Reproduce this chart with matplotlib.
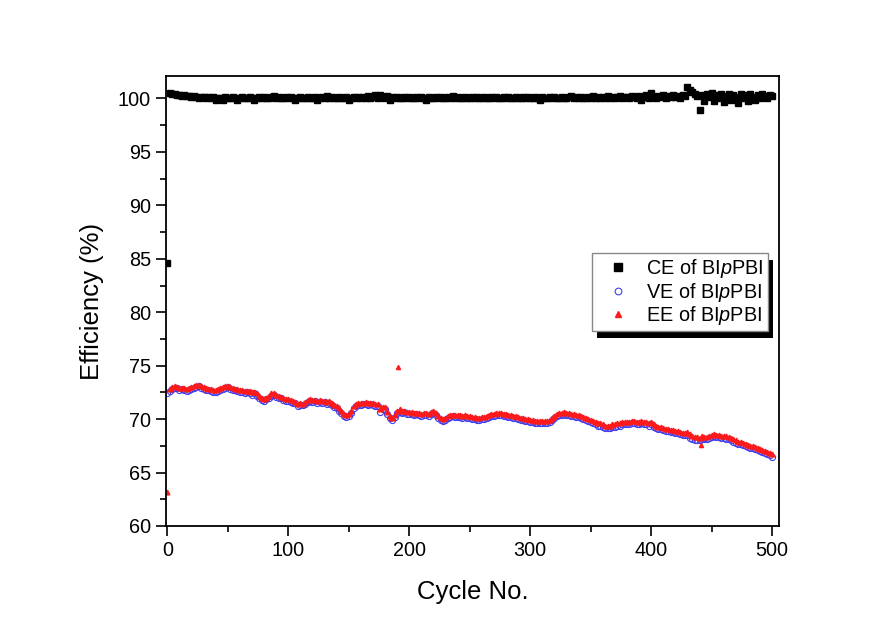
import numpy as np
import matplotlib
matplotlib.use("Agg")
import matplotlib.pyplot as plt
from matplotlib.patches import Rectangle
from matplotlib.ticker import MultipleLocator

plt.rcParams['font.family'] = ['Liberation Sans', 'DejaVu Sans']
plt.rcParams['mathtext.fontset'] = 'custom'
plt.rcParams['mathtext.rm'] = 'Liberation Sans'
plt.rcParams['mathtext.it'] = 'Liberation Sans:italic'

cycles = np.arange(0, 501, 2)

ce = [84.6, 100.5, 100.4, 100.4, 100.3, 100.3, 100.2, 100.3, 100.2, 100.2,
      100.1, 100.2, 100.1, 100.0, 100.1, 100.1, 100.0, 100.1, 100.0, 100.1,
      99.9, 100.0, 100.0, 99.9, 100.1, 100.0, 100.0, 100.1, 100.0, 99.9,
      100.0, 100.1, 100.0, 100.0, 100.1, 100.0, 99.9, 100.0, 100.1, 100.0,
      100.1, 100.0, 100.0, 100.1, 100.2, 100.0, 100.1, 100.0, 100.0, 100.1,
      100.0, 100.1, 100.0, 99.9, 100.0, 100.1, 100.0, 100.0, 100.1, 100.0,
      100.0, 100.1, 99.9, 100.0, 100.1, 100.0, 100.2, 100.0, 100.1, 100.0,
      100.0, 100.1, 100.0, 100.0, 100.1, 99.9, 100.0, 100.1, 100.0, 100.1,
      100.0, 100.1, 100.0, 100.2, 100.0, 100.1, 100.3, 100.0, 100.3, 100.1,
      100.0, 100.2, 99.9, 100.1, 100.0, 100.1, 100.0, 100.0, 100.1, 100.0,
      100.1, 100.0, 100.0, 100.1, 100.0, 100.1, 100.0, 99.9, 100.1, 100.0,
      100.0, 100.1, 100.0, 100.1, 100.0, 100.0, 100.1, 100.0, 100.2, 100.0,
      100.1, 100.0, 100.0, 100.1, 100.0, 100.0, 100.1, 100.0, 100.1, 100.0,
      100.0, 100.1, 100.0, 100.0, 100.1, 100.0, 100.1, 100.0, 100.0, 100.1,
      100.0, 100.1, 100.0, 100.0, 100.1, 100.0, 100.0, 100.1, 100.0, 100.1,
      100.0, 100.0, 100.1, 100.0, 99.9, 100.1, 100.0, 100.0, 100.1, 100.0,
      100.1, 100.0, 100.0, 100.1, 100.0, 100.0, 100.1, 100.2, 100.0, 100.1,
      100.0, 100.1, 100.0, 100.0, 100.1, 100.0, 100.2, 100.0, 100.1, 100.0,
      100.1, 100.0, 100.2, 100.0, 100.1, 100.0, 100.1, 100.2, 100.0, 100.1,
      100.1, 100.0, 100.2, 100.1, 100.0, 100.2, 99.9, 100.1, 100.3, 100.0,
      100.5, 100.1, 100.0, 100.2, 100.1, 100.3, 100.0, 100.2, 100.1, 100.3,
      100.1, 100.2, 100.0, 100.3, 100.2, 101.1, 100.8, 100.6, 100.4, 100.2,
      98.9, 100.3, 99.8, 100.4, 100.1, 100.5, 99.8, 100.3, 100.0, 100.4,
      99.7, 100.2, 100.4, 99.9, 100.3, 100.1, 99.6, 100.4, 100.0, 100.3,
      99.8, 100.4, 100.1, 99.9, 100.3, 100.0, 100.4, 100.2, 100.0, 100.3,
      100.2]

ve = [72.4, 72.6, 72.8, 72.9, 72.9, 72.7, 72.8, 72.7, 72.6, 72.7,
      72.8, 72.9, 73.0, 73.1, 72.9, 72.8, 72.7, 72.7, 72.6, 72.5,
      72.5, 72.6, 72.7, 72.8, 72.9, 73.0, 72.8, 72.7, 72.7, 72.6,
      72.5, 72.5, 72.4, 72.5, 72.4, 72.3, 72.4, 72.2, 72.0, 71.8,
      71.7, 71.9, 72.0, 72.2, 72.3, 72.1, 72.0, 72.0, 71.8, 71.7,
      71.7, 71.6, 71.5, 71.5, 71.2, 71.3, 71.3, 71.4, 71.6, 71.7,
      71.6, 71.7, 71.5, 71.6, 71.5, 71.6, 71.4, 71.5, 71.3, 71.1,
      71.0, 70.8, 70.6, 70.3, 70.2, 70.3, 70.6, 71.0, 71.2, 71.3,
      71.3, 71.4, 71.4, 71.3, 71.4, 71.3, 71.2, 71.2, 70.7, 70.9,
      70.9, 70.5, 70.1, 69.9, 70.2, 70.6, 70.7, 70.6, 70.7, 70.5,
      70.5, 70.5, 70.4, 70.5, 70.4, 70.3, 70.4, 70.4, 70.3, 70.5,
      70.6, 70.4, 70.1, 69.9, 69.8, 69.9, 70.1, 70.2, 70.3, 70.2,
      70.2, 70.2, 70.1, 70.2, 70.1, 70.1, 70.0, 70.0, 69.9, 69.9,
      70.0, 70.0, 70.1, 70.2, 70.3, 70.3, 70.4, 70.4, 70.4, 70.3,
      70.3, 70.2, 70.2, 70.1, 70.1, 70.0, 69.9, 69.9, 69.8, 69.8,
      69.7, 69.7, 69.6, 69.6, 69.6, 69.6, 69.6, 69.6, 69.7, 69.9,
      70.1, 70.3, 70.4, 70.4, 70.5, 70.4, 70.4, 70.3, 70.3, 70.2,
      70.2, 70.1, 70.0, 69.9, 69.8, 69.7, 69.6, 69.5, 69.4, 69.4,
      69.3, 69.2, 69.2, 69.2, 69.3, 69.3, 69.4, 69.4, 69.5, 69.5,
      69.5, 69.5, 69.6, 69.6, 69.5, 69.5, 69.6, 69.5, 69.5, 69.4,
      69.5, 69.3, 69.2, 69.1, 69.1, 69.0, 68.9, 68.9, 68.8, 68.8,
      68.7, 68.7, 68.6, 68.5, 68.5, 68.5, 68.2, 68.1, 68.0, 68.0,
      68.0, 68.1, 68.1, 68.1, 68.2, 68.3, 68.4, 68.3, 68.3, 68.2,
      68.2, 68.1, 68.1, 68.0, 67.9, 67.8, 67.7, 67.7, 67.6, 67.5,
      67.4, 67.3, 67.3, 67.2, 67.1, 67.0, 66.9, 66.8, 66.7, 66.6,
      66.5]

ee = [63.2, 72.8, 73.0, 73.1, 73.0, 72.9, 72.9, 72.9, 72.8, 72.9,
      73.0, 73.1, 73.2, 73.2, 73.1, 73.0, 72.9, 72.8, 72.8, 72.7,
      72.7, 72.8, 72.9, 73.0, 73.1, 73.1, 73.0, 72.9, 72.8, 72.8,
      72.7, 72.7, 72.6, 72.6, 72.6, 72.5, 72.5, 72.4, 72.2, 72.0,
      71.9, 72.0, 72.2, 72.4, 72.4, 72.3, 72.2, 72.1, 72.0, 71.9,
      71.9, 71.8, 71.7, 71.6, 71.4, 71.5, 71.4, 71.6, 71.8, 71.9,
      71.8, 71.8, 71.7, 71.8, 71.7, 71.7, 71.6, 71.7, 71.5, 71.3,
      71.2, 71.0, 70.8, 70.5, 70.4, 70.5, 70.8, 71.2, 71.4, 71.5,
      71.5, 71.5, 71.6, 71.5, 71.5, 71.5, 71.4, 71.4, 70.9, 71.1,
      71.1, 70.7, 70.3, 70.1, 70.4, 70.8, 70.9, 70.8, 70.8, 70.7,
      70.7, 70.7, 70.6, 70.6, 70.6, 70.5, 70.6, 70.6, 70.5, 70.7,
      70.8, 70.6, 70.3, 70.1, 70.0, 70.1, 70.3, 70.4, 70.4, 70.4,
      70.4, 70.4, 70.3, 70.4, 70.3, 70.3, 70.2, 70.2, 70.1, 70.1,
      70.2, 70.2, 70.3, 70.4, 70.5, 70.5, 70.6, 70.6, 70.6, 70.5,
      70.5, 70.4, 70.4, 70.3, 70.3, 70.2, 70.1, 70.1, 70.0, 70.0,
      69.9, 69.9, 69.8, 69.8, 69.8, 69.8, 69.8, 69.8, 69.9, 70.1,
      70.3, 70.5, 70.6, 70.6, 70.7, 70.6, 70.6, 70.5, 70.5, 70.4,
      70.4, 70.3, 70.2, 70.1, 70.0, 69.9, 69.8, 69.7, 69.6, 69.6,
      69.5, 69.4, 69.4, 69.4, 69.5, 69.5, 69.6, 69.6, 69.7, 69.7,
      69.7, 69.7, 69.8, 69.8, 69.7, 69.7, 69.8, 69.7, 69.7, 69.6,
      69.7, 69.5, 69.4, 69.3, 69.3, 69.2, 69.1, 69.1, 69.0, 69.0,
      68.9, 68.9, 68.8, 68.7, 68.7, 68.8, 68.6, 68.4, 68.3, 68.3,
      68.2, 68.4, 68.3, 68.3, 68.4, 68.5, 68.6, 68.5, 68.5, 68.4,
      68.4, 68.4, 68.3, 68.2, 68.1, 68.0, 67.9, 67.9, 67.8, 67.7,
      67.6, 67.5, 67.5, 67.4, 67.3, 67.2, 67.1, 67.0, 66.9, 66.8,
      66.7]

ee_extra_cycles = [191, 441]
ee_extra = [74.9, 67.6]

labels = [r'CE of BI$\mathit{p}$PBI', r'VE of BI$\mathit{p}$PBI', r'EE of BI$\mathit{p}$PBI']

fig = plt.figure(figsize=(8.88, 6.23), dpi=100)
ax = fig.add_axes([0.187, 0.1557, 0.690, 0.7223])

h1, = ax.plot(cycles, ce, ls='none', marker='s', ms=4.6, color='black', mec='black', label=labels[0])
h2, = ax.plot(cycles, ve, ls='none', marker='o', ms=4.4, mfc='none', mec='#4040ee', mew=0.8, label=labels[1])
h3, = ax.plot(cycles, ee, ls='none', marker='^', ms=3.4, color='#ff1a1a', mec='#ff1a1a', label=labels[2])
ax.plot(ee_extra_cycles, ee_extra, ls='none', marker='^', ms=3.0, color='#ff1a1a', mec='#ff1a1a')

ax.set_xlim(-1, 505.5)
ax.set_ylim(60, 102.1)
ax.xaxis.set_major_locator(MultipleLocator(100))
ax.xaxis.set_minor_locator(MultipleLocator(50))
ax.yaxis.set_major_locator(MultipleLocator(5))
ax.yaxis.set_minor_locator(MultipleLocator(2.5))
ax.tick_params(which='both', direction='out', top=False, right=False, width=1.2, labelsize=14.3)
ax.tick_params(which='major', length=7, pad=4)
ax.tick_params(which='minor', length=4)
for s in ax.spines.values():
    s.set_linewidth(1.3)

ax.set_xlabel('Cycle No.', fontsize=18.5, labelpad=14)
ax.set_ylabel('Efficiency (%)', fontsize=18.5, labelpad=10)

leg = ax.legend(handles=[h1, h2, h3], loc='upper left', bbox_to_anchor=(0.695, 0.607),
                borderaxespad=0, fontsize=14.3, frameon=True, fancybox=False,
                edgecolor='#888888', framealpha=1, labelspacing=0.02, handlelength=2.2,
                handletextpad=0.3, borderpad=0.22, markerscale=1.1)
leg.get_frame().set_linewidth(1.0)
leg.set_zorder(6)

fig.canvas.draw()
bb = leg.get_window_extent().transformed(ax.transAxes.inverted())
dx = 5 / (ax.bbox.width)
dy = 7 / (ax.bbox.height)
shadow = Rectangle((bb.x0 + dx, bb.y0 - dy), bb.width, bb.height, transform=ax.transAxes,
                   facecolor='black', edgecolor='none', zorder=5.5, clip_on=False)
ax.add_patch(shadow)
ax.set_xlim(-1, 505.5)
ax.set_ylim(60, 102.1)

fig.savefig('out.png', dpi=100, facecolor='white')
